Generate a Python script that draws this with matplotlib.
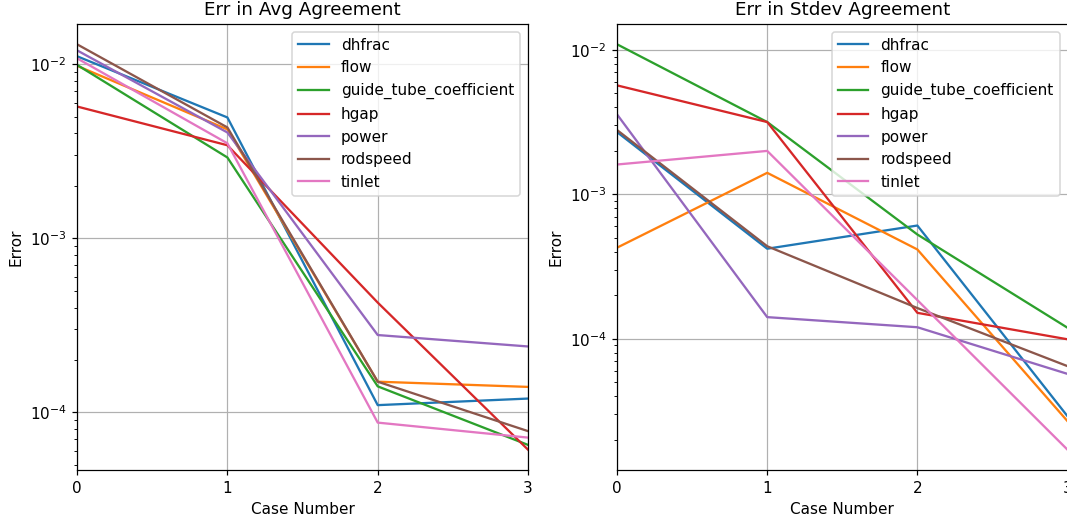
import numpy as np
import matplotlib
matplotlib.use("Agg")
import matplotlib.pyplot as plt

# case numbers and parameter names
cases = [0, 1, 2, 3]
params = ["dhfrac", "flow", "guide_tube_coefficient", "hgap",
          "power", "rodspeed", "tinlet"]

# error in average agreement, one list per parameter
avg_dhfrac = [0.0111, 0.00494, 1.10e-4, 1.20e-4]
avg_flow = [0.00978, 0.00422, 1.50e-4, 1.40e-4]
avg_guide_tube = [0.0099, 0.00291, 1.41e-4, 6.5e-5]
avg_hgap = [0.00571, 0.00342, 4.27e-4, 6.1e-5]
avg_power = [0.0120, 0.00405, 2.78e-4, 2.39e-4]
avg_rodspeed = [0.0130, 0.00433, 1.50e-4, 7.8e-5]
avg_tinlet = [0.0108, 0.00351, 8.73e-5, 7.16e-5]

# error in stdev agreement
std_dhfrac = [0.00270, 4.20e-4, 6.08e-4, 2.90e-5]
std_flow = [4.27e-4, 1.41e-3, 4.15e-4, 2.68e-5]
std_guide_tube = [0.01096, 3.17e-3, 5.27e-4, 1.19e-4]
std_hgap = [0.00569, 3.17e-3, 1.51e-4, 9.9e-5]
std_power = [0.00358, 1.41e-4, 1.20e-4, 5.7e-5]
std_rodspeed = [0.00279, 4.37e-4, 1.63e-4, 6.45e-5]
std_tinlet = [0.00161, 2.00e-3, 1.85e-4, 1.70e-5]

avg_err = [avg_dhfrac, avg_flow, avg_guide_tube, avg_hgap,
           avg_power, avg_rodspeed, avg_tinlet]
std_err = [std_dhfrac, std_flow, std_guide_tube, std_hgap,
           std_power, std_rodspeed, std_tinlet]

DPI = 110
fig = plt.figure(figsize=(1067 / DPI, 521 / DPI), dpi=DPI)
ax1 = fig.add_axes([0.0722, 0.0979, 0.4227, 0.856])
ax2 = fig.add_axes([0.5783, 0.0979, 0.4222, 0.856])

for ax, data, title in [(ax1, avg_err, "Err in Avg Agreement"),
                        (ax2, std_err, "Err in Stdev Agreement")]:
    for name, vals in zip(params, data):
        ax.plot(cases, vals, label=name)
    ax.set_yscale("log")
    ax.set_xlim(0, 3)
    ax.set_xticks(cases)
    ax.set_xlabel("Case Number")
    ax.set_ylabel("Error")
    ax.set_title(title)
    ax.grid(True)
    ax.legend(loc="upper right")

fig.savefig("out.png", dpi=DPI)
